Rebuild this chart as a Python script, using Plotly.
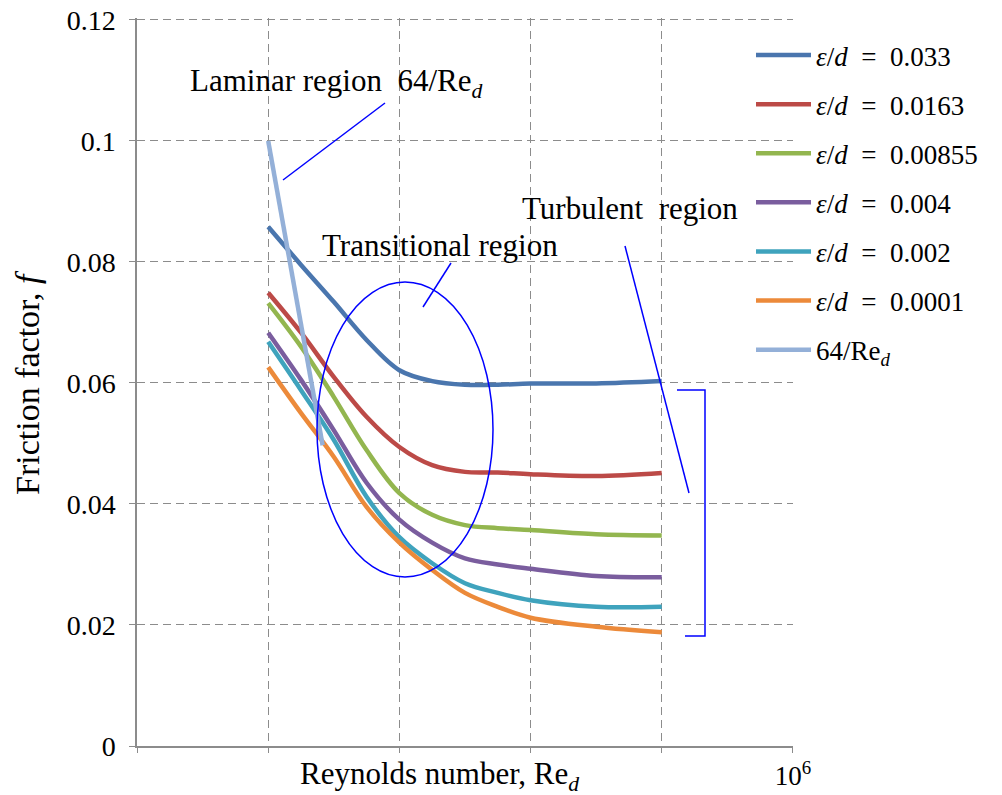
import plotly.graph_objects as go

# Reynolds numbers (log axis) at which the curves were read
re_d = [100, 178, 316, 562, 1000, 1778, 3162, 5623, 10000, 31623, 100000]

f_0033 = [0.0858, 0.0795, 0.0734, 0.0671, 0.0621, 0.0603, 0.0597, 0.0597, 0.0599, 0.0599, 0.0603]
f_0163 = [0.0749, 0.0683, 0.0610, 0.0544, 0.0494, 0.0464, 0.0453, 0.0452, 0.0449, 0.0446, 0.0451]
f_00855 = [0.0732, 0.0660, 0.0577, 0.0489, 0.0418, 0.0382, 0.0365, 0.0360, 0.0357, 0.0350, 0.0348]
f_0004 = [0.0683, 0.0605, 0.0522, 0.0435, 0.0374, 0.0336, 0.0310, 0.0300, 0.0293, 0.0281, 0.0279]
f_0002 = [0.0668, 0.0588, 0.0506, 0.0412, 0.0345, 0.0302, 0.0269, 0.0253, 0.0241, 0.0230, 0.0230]
f_00001 = [0.0626, 0.0550, 0.0478, 0.0395, 0.0336, 0.0291, 0.0253, 0.0230, 0.0212, 0.0197, 0.0188]

re_lam = [100, 260]
f_lam = [0.1, 0.0497]

series_names = [
    "<i>ε</i>/<i>d</i>\u2002=\u20020.033",
    "<i>ε</i>/<i>d</i>\u2002=\u20020.0163",
    "<i>ε</i>/<i>d</i>\u2002=\u20020.00855",
    "<i>ε</i>/<i>d</i>\u2002=\u20020.004",
    "<i>ε</i>/<i>d</i>\u2002=\u20020.002",
    "<i>ε</i>/<i>d</i>\u2002=\u20020.0001",
    "64/Re<sub><i>d</i></sub>",
]
series_values = [f_0033, f_0163, f_00855, f_0004, f_0002, f_00001]
colors = ["#4A76AE", "#BC4A47", "#93B64F", "#7A5D9E", "#3FA3BD", "#EC8A3A", "#94B0D8"]

x_tickvals = [10, 100, 1000, 10000, 100000, 1000000]
x_ticktext = ["", "", "", "", "", "10<sup>6</sup>"]
y_tickvals = [0, 0.02, 0.04, 0.06, 0.08, 0.1, 0.12]
y_ticktext = ["0", "0.02", "0.04", "0.06", "0.08", "0.1", "0.12"]

SERIF = "Liberation Serif"

# plot area in page pixels (left, right, bottom, top-of-range)
PL, PR, PB, PT = 137, 793, 746, 18


def px(x):
    return (x - PL) / (PR - PL)


def py(y):
    return (PB - y) / (PB - PT)


fig = go.Figure()
for i, (name, vals) in enumerate(zip(series_names[:6], series_values)):
    fig.add_trace(go.Scatter(
        x=re_d, y=vals, mode="lines", name=name,
        line=dict(color=colors[i], width=4.5, shape="spline", smoothing=1.0),
        legendgroup=f"g{i}",
    ))
fig.add_trace(go.Scatter(
    x=re_lam, y=f_lam, mode="lines", name=series_names[6],
    line=dict(color=colors[6], width=4.5), legendgroup="g6",
))

blue = "#0000FF"
bl = dict(color=blue, width=1.5)
shapes = [
    dict(type="circle", xref="paper", yref="paper",
         x0=px(317), x1=px(493), y0=py(577), y1=py(282), line=bl),
    dict(type="line", xref="paper", yref="paper",
         x0=px(283), y0=py(180), x1=px(385), y1=py(103), line=bl),
    dict(type="line", xref="paper", yref="paper",
         x0=px(423), y0=py(307), x1=px(451), y1=py(263), line=bl),
    dict(type="line", xref="paper", yref="paper",
         x0=px(625), y0=py(246), x1=px(689), y1=py(493), line=bl),
    dict(type="path", xref="paper", yref="paper",
         path=(f"M {px(677)} {py(390)} L {px(705)} {py(390)} "
               f"L {px(705)} {py(636)} L {px(685)} {py(636)}"),
         line=bl),
]

ann_font = dict(family=SERIF, size=31, color="black")
annotations = [
    dict(text="Laminar region  64/Re<sub><i>d</i></sub>", xref="paper", yref="paper",
         x=px(188), y=py(83), showarrow=False, font=ann_font,
         xanchor="left", yanchor="middle"),
    dict(text="Transitional region", xref="paper", yref="paper",
         x=px(320), y=py(245), showarrow=False, font=ann_font,
         xanchor="left", yanchor="middle"),
    dict(text="Turbulent  region", xref="paper", yref="paper",
         x=px(740), y=py(209), showarrow=False, font=ann_font,
         xanchor="right", yanchor="middle"),
    dict(text="Reynolds number, Re<sub><i>d</i></sub>", xref="paper", yref="paper",
         x=px(439), y=py(776), showarrow=False, font=ann_font,
         xanchor="center", yanchor="middle"),
    dict(text="Friction factor, <i>f</i>", xref="paper", yref="paper",
         x=px(27), y=py(383), showarrow=False,
         font=dict(family=SERIF, size=34, color="black"), textangle=-90,
         xanchor="center", yanchor="middle"),
]

# the page adds an 8px body margin, so the margins are reduced by 8px on the left/top
fig.update_layout(
    width=1002, height=795,
    margin=dict(l=PL - 8, r=1002 - (PR - 8), t=PT - 8, b=795 - (PB - 8)),
    paper_bgcolor="white", plot_bgcolor="white",
    font=dict(family=SERIF, size=27, color="black"),
    shapes=shapes, annotations=annotations,
    legend=dict(
        x=px(751), y=py(31), xanchor="left", yanchor="top",
        font=dict(family=SERIF, size=27, color="black"),
        itemwidth=55, tracegroupgap=11, traceorder="grouped",
        bgcolor="rgba(0,0,0,0)",
    ),
)
fig.update_xaxes(
    type="log", range=[1, 6.0005], automargin=False,
    tickvals=x_tickvals, ticktext=x_ticktext, ticklabeloverflow="allow",
    showgrid=True, gridcolor="#8c8c8c", griddash="8px,5px", gridwidth=1.4,
    showline=True, linecolor="#8c8c8c", linewidth=1.5,
    ticks="outside", ticklen=5, tickcolor="#8c8c8c",
    tickfont=dict(family=SERIF, size=27, color="black"),
    zeroline=False,
)
fig.update_yaxes(
    range=[0, 0.1203], automargin=False,
    tickvals=y_tickvals, ticktext=y_ticktext, ticklabeloverflow="allow",
    showgrid=True, gridcolor="#8c8c8c", griddash="8px,5px", gridwidth=1.4,
    showline=True, linecolor="#8c8c8c", linewidth=1.5,
    ticks="outside", ticklen=6, tickcolor="#8c8c8c",
    tickfont=dict(family=SERIF, size=28, color="black"),
    ticklabelstandoff=8,
    zeroline=False,
)

fig.write_html("out.html")
